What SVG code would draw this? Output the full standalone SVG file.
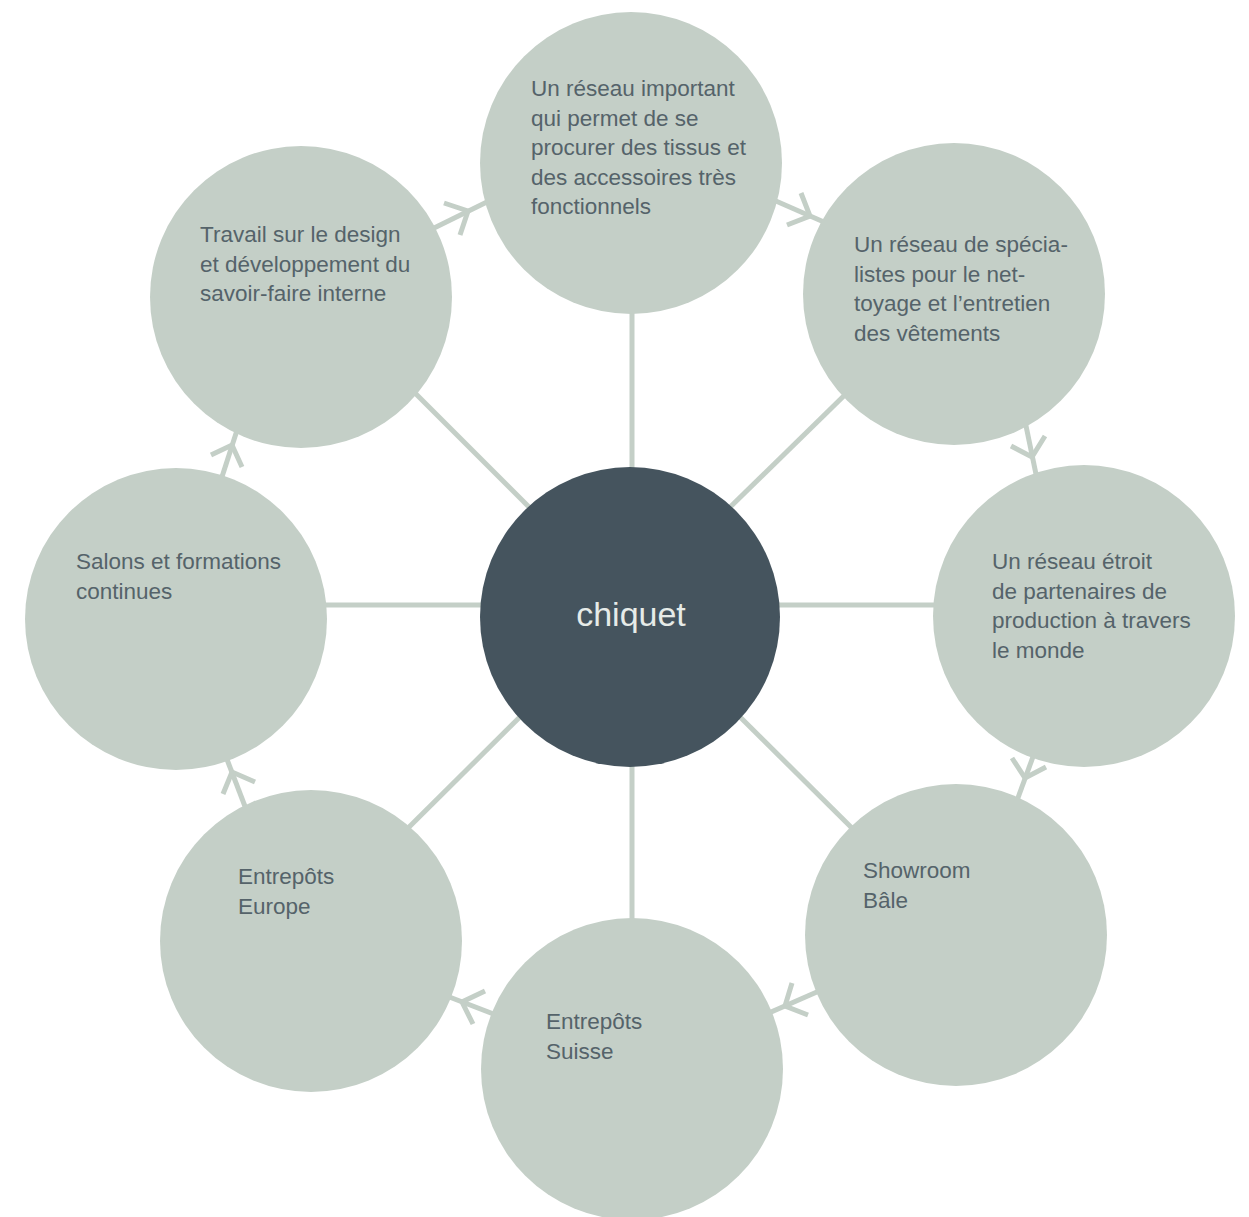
<svg xmlns="http://www.w3.org/2000/svg" width="1249" height="1217" viewBox="0 0 1249 1217">
<style>
.conn{stroke:#c4cfc7;stroke-width:5;fill:none;stroke-linecap:butt;stroke-linejoin:miter}
.node{fill:#c4cfc7}
.hub{fill:#45545e}
.lbl{font-family:"Liberation Sans",Arial,sans-serif;font-size:22.5px;fill:#55636a}
.hubtxt{font-family:"Liberation Sans",Arial,sans-serif;font-size:34px;fill:#e6ebe8;text-anchor:middle}
</style>
<rect width="1249" height="1217" fill="#ffffff"/>
<g id="connectors">
  <line class="conn" x1="632" y1="300" x2="632" y2="480"/>
  <line class="conn" x1="632" y1="750" x2="632" y2="930"/>
  <line class="conn" x1="310" y1="605" x2="495" y2="605"/>
  <line class="conn" x1="765" y1="605" x2="950" y2="605"/>
  <line class="conn" x1="405" y1="383" x2="540" y2="518"/>
  <line class="conn" x1="855" y1="385" x2="722" y2="515"/>
  <line class="conn" x1="396" y1="840" x2="530" y2="707"/>
  <line class="conn" x1="730" y1="707" x2="864" y2="840"/>
  <line class="conn" x1="428" y1="231" x2="495" y2="198"/>
  <polyline class="conn" points="444,203 468,211 460,235"/>
  <line class="conn" x1="769" y1="198" x2="833" y2="226"/>
  <polyline class="conn" points="801,193 810,216 787,225"/>
  <line class="conn" x1="1025" y1="421" x2="1037" y2="479"/>
  <polyline class="conn" points="1011,446 1032,457 1045,436"/>
  <line class="conn" x1="1034" y1="754" x2="1015" y2="806"/>
  <polyline class="conn" points="1012,758 1025,778 1046,767"/>
  <line class="conn" x1="826" y1="988" x2="762" y2="1016"/>
  <polyline class="conn" points="792,983 785,1006 808,1015"/>
  <line class="conn" x1="504" y1="1018" x2="439" y2="993"/>
  <polyline class="conn" points="485,991 462,1002 473,1024"/>
  <line class="conn" x1="246" y1="809" x2="223" y2="749"/>
  <polyline class="conn" points="255,782 232,772 223,794"/>
  <line class="conn" x1="220" y1="483" x2="240" y2="421"/>
  <polyline class="conn" points="242,467 232,445 211,455"/>
</g>
<g id="node-hub">
  <circle class="hub" cx="630" cy="617" r="150"/>
  <text class="hubtxt" x="631" y="626">chiquet</text>
</g>
<g id="node-top">
  <circle class="node" cx="631" cy="163" r="151"/>
  <text class="lbl"><tspan x="531" y="96">Un réseau important</tspan><tspan x="531" y="125.5">qui permet de se</tspan><tspan x="531" y="155">procurer des tissus et</tspan><tspan x="531" y="184.5">des accessoires très</tspan><tspan x="531" y="214">fonctionnels</tspan></text>
</g>
<g id="node-topright">
  <circle class="node" cx="954" cy="294" r="151"/>
  <text class="lbl"><tspan x="854" y="252">Un réseau de spécia-</tspan><tspan x="854" y="281.5">listes pour le net-</tspan><tspan x="854" y="311">toyage et l’entretien</tspan><tspan x="854" y="340.5">des vêtements</tspan></text>
</g>
<g id="node-right">
  <circle class="node" cx="1084" cy="616" r="151"/>
  <text class="lbl"><tspan x="992" y="569">Un réseau étroit</tspan><tspan x="992" y="598.5">de partenaires de</tspan><tspan x="992" y="628">production à travers</tspan><tspan x="992" y="657.5">le monde</tspan></text>
</g>
<g id="node-bottomright">
  <circle class="node" cx="956" cy="935" r="151"/>
  <text class="lbl"><tspan x="863" y="878">Showroom</tspan><tspan x="863" y="907.5">Bâle</tspan></text>
</g>
<g id="node-bottom">
  <circle class="node" cx="632" cy="1069" r="151"/>
  <text class="lbl"><tspan x="546" y="1029">Entrepôts</tspan><tspan x="546" y="1058.5">Suisse</tspan></text>
</g>
<g id="node-bottomleft">
  <circle class="node" cx="311" cy="941" r="151"/>
  <text class="lbl"><tspan x="238" y="884">Entrepôts</tspan><tspan x="238" y="913.5">Europe</tspan></text>
</g>
<g id="node-left">
  <circle class="node" cx="176" cy="619" r="151"/>
  <text class="lbl"><tspan x="76" y="569">Salons et formations</tspan><tspan x="76" y="598.5">continues</tspan></text>
</g>
<g id="node-topleft">
  <circle class="node" cx="301" cy="297" r="151"/>
  <text class="lbl"><tspan x="200" y="242">Travail sur le design</tspan><tspan x="200" y="271.5">et développement du</tspan><tspan x="200" y="301">savoir-faire interne</tspan></text>
</g>
</svg>
